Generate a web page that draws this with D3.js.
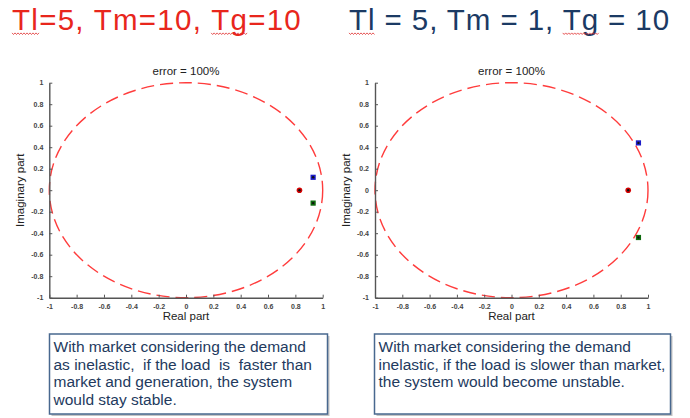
<!DOCTYPE html>
<html>
<head>
<meta charset="utf-8">
<script src="https://cdn.jsdelivr.net/npm/d3@7"></script>
<style>
  body { margin: 0; background: #fff; }
  text { font-family: "Liberation Sans", Arial, sans-serif; }
</style>
</head>
<body>
<svg id="chart" width="690" height="418"></svg>
<script>
// ---- data ----
var tickValues = [-1, -0.8, -0.6, -0.4, -0.2, 0, 0.2, 0.4, 0.6, 0.8, 1];
var poleNames = ['p1', 'p2', 'p3'];
var stableReal = [0.83, 0.93, 0.93];
var stableImag = [0, 0.12, -0.12];
var unstableReal = [0.855, 0.93, 0.93];
var unstableImag = [0, 0.44, -0.44];

var headings = [
    ['Tl', '=5, Tm=10, ', 'Tg', '=10'],
    ['Tl', ' = 5, Tm = 1, ', 'Tg', ' = 10']
];
var notes = [
    ['With market considering the demand',
     'as inelastic,  if the load  is  faster than',
     'market and generation, the system',
     'would stay stable.'],
    ['With market considering the demand',
     'inelastic, if the load is slower than market,',
     'the system would become unstable.']
];

// ---- layout / styles ----
var poleColor = { p1: '#d40000', p2: '#1c1cc8', p3: '#0e6a0e' };
var headingColor = ['#e8261c', '#1b3a64'];
var headingPos = [{x: 12, w: 290}, {x: 349, w: 321}];
var panels = [
    {left: 49.3, right: 322.7, re: stableReal, im: stableImag},
    {left: 375, right: 648, re: unstableReal, im: unstableImag}
];
var boxes = [{x: 49.5, y: 334, w: 278, h: 80}, {x: 374.5, y: 334, w: 296, h: 80}];
var plotTop = 82.7, plotBottom = 297.7;

var svg = d3.select('#chart');
svg.append('rect').attr('width', 690).attr('height', 418).attr('fill', '#fff');

// headings with the little spell-check squiggles
headings.forEach(function(parts, i) {
    var t = svg.append('text')
        .attr('x', headingPos[i].x).attr('y', 30)
        .attr('font-size', 29.5)
        .attr('fill', headingColor[i]);
    t.selectAll('tspan').data(parts).enter().append('tspan').text(d => d);
    var node = t.node();
    var n = parts.join('').length;
    var ls = (headingPos[i].w - node.getComputedTextLength()) / n;
    t.style('letter-spacing', ls + 'px');

    var start = 0;
    parts.forEach(function(p, k) {
        if (k % 2 === 0) {
            var x0 = node.getStartPositionOfChar(start).x;
            var x1 = node.getEndPositionOfChar(start + p.length - 1).x;
            var pts = d3.range(x0, x1, 1.5).map((x, j) => [x, 33.5 + (j % 2 ? 1 : -0.6)]);
            svg.append('path')
                .attr('d', d3.line()(pts))
                .attr('fill', 'none')
                .attr('stroke', '#e03030')
                .attr('stroke-width', 0.8);
        }
        start += p.length;
    });
});

var fmt = d => String(Math.round(d * 10) / 10);

panels.forEach(function(p) {
    var x = d3.scaleLinear().domain([-1, 1]).range([p.left, p.right]);
    var y = d3.scaleLinear().domain([-1, 1]).range([plotBottom, plotTop]);
    var g = svg.append('g');

    // unit circle, dashed
    g.append('ellipse')
        .attr('cx', x(0)).attr('cy', y(0))
        .attr('rx', x(1) - x(0)).attr('ry', y(-1) - y(0))
        .attr('fill', 'none')
        .attr('stroke', '#ff3c3c')
        .attr('stroke-width', 1.4)
        .attr('stroke-dasharray', '13,6');

    var xAxis = d3.axisBottom(x).tickValues(tickValues).tickFormat(fmt).tickSizeInner(-3).tickSizeOuter(0).tickPadding(6);
    var yAxis = d3.axisLeft(y).tickValues(tickValues).tickFormat(fmt).tickSizeInner(-3).tickSizeOuter(0).tickPadding(6);

    var gx = g.append('g').attr('transform', 'translate(0,' + plotBottom + ')').call(xAxis);
    var gy = g.append('g').attr('transform', 'translate(' + p.left + ',0)').call(yAxis);
    [gx, gy].forEach(function(a) {
        a.select('.domain').attr('stroke', '#555').attr('stroke-width', 1.4);
        a.selectAll('.tick line').attr('stroke', '#555');
        a.selectAll('.tick text')
            .attr('font-size', 7).attr('font-weight', 'bold')
            .attr('fill', '#444')
            .style('font-family', '"Liberation Sans", Arial, sans-serif');
    });

    // poles
    poleNames.forEach(function(name, k) {
        var px = x(p.re[k]), py = y(p.im[k]);
        if (k === 0) {
            g.append('circle').attr('cx', px).attr('cy', py).attr('r', 2.8).attr('fill', poleColor[name]);
        } else {
            g.append('rect').attr('x', px - 2.6).attr('y', py - 2.6).attr('width', 5.2).attr('height', 5.2)
                .attr('fill', poleColor[name]);
        }
        g.append('circle').attr('cx', px).attr('cy', py).attr('r', 1.2).attr('fill', '#111');
    });

    // title and axis labels
    g.append('text').attr('x', (p.left + p.right) / 2).attr('y', 75)
        .attr('text-anchor', 'middle').attr('font-size', 11.5).attr('fill', '#222')
        .text('error = 100%');
    g.append('text').attr('x', (p.left + p.right) / 2).attr('y', 320)
        .attr('text-anchor', 'middle').attr('font-size', 11.5).attr('fill', '#222')
        .text('Real part');
    g.append('text')
        .attr('transform', 'translate(' + (p.left - 25) + ',' + y(0) + ') rotate(-90)')
        .attr('text-anchor', 'middle').attr('font-size', 11.5).attr('fill', '#222')
        .text('Imaginary part');
});

// note boxes
boxes.forEach(function(b, i) {
    svg.append('rect').attr('x', b.x + 2).attr('y', b.y + 2).attr('width', b.w).attr('height', b.h)
        .attr('fill', '#c4c4c4');
    svg.append('rect').attr('x', b.x).attr('y', b.y).attr('width', b.w).attr('height', b.h)
        .attr('fill', '#fff').attr('stroke', '#48688f').attr('stroke-width', 1.5);
    svg.append('g').selectAll('text').data(notes[i]).enter().append('text')
        .attr('x', b.x + 4)
        .attr('y', (d, j) => 352 + j * 17.6)
        .attr('font-size', 15.5)
        .attr('fill', '#233a5e')
        .style('white-space', 'pre')
        .text(d => d);
});
</script>
</body>
</html>
